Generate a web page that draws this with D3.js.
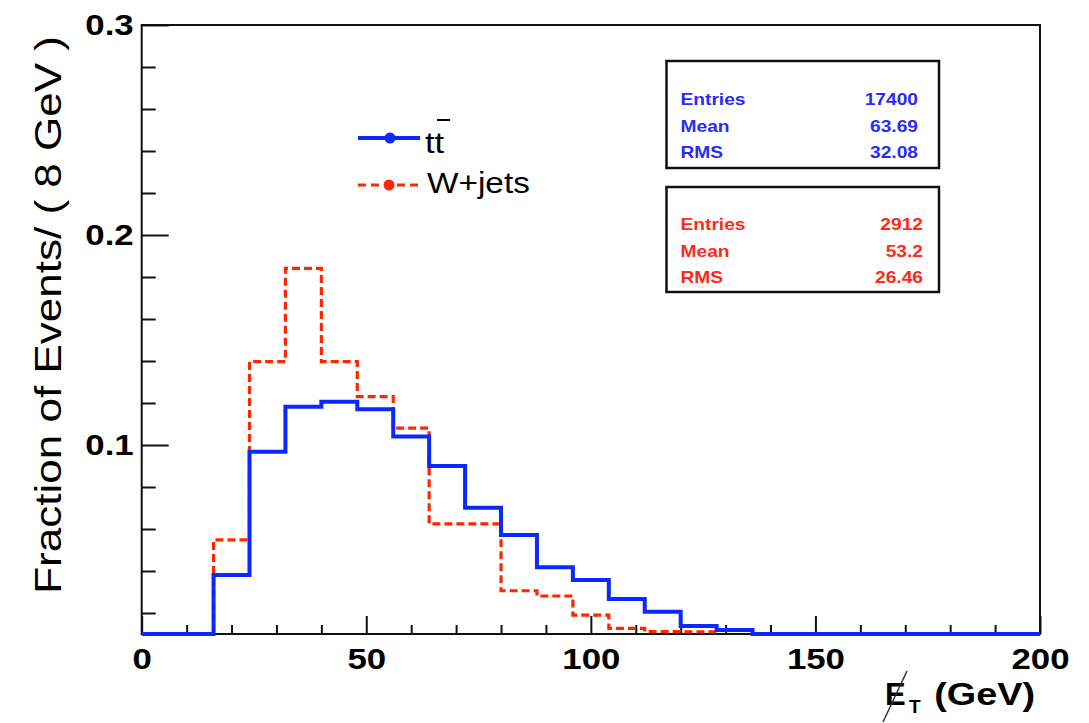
<!DOCTYPE html>
<html><head><meta charset="utf-8">
<script src="https://cdn.jsdelivr.net/npm/d3@7/dist/d3.min.js"></script>
<style>
html,body{margin:0;padding:0;background:#fff;}
svg{display:block;}
text{font-family:"Liberation Sans",Arial,Helvetica,sans-serif;}
</style></head>
<body>
<script>
// ---- data ----
const binLow = [0,8,16,24,32,40,48,56,64,72,80,88,96,104,112,120,128,136,144,152,160,168,176,184,192];
const binWidth = 8;
const ttbar = [0,0,0.0381,0.0968,0.1182,0.1206,0.1170,0.1040,0.0900,0.0701,0.0571,0.0418,0.0357,0.0267,0.0206,0.0138,0.0119,0,0,0,0,0,0,0,0];
const wjets = [0,0,0.0548,0.1397,0.1841,0.1397,0.1230,0.1080,0.0624,0.0624,0.0306,0.0281,0.0190,0.0127,0.0111,0.0110,0,0,0,0,0,0,0,0,0];
const xMajor = [0,50,100,150,200];
const xMinor = [10,20,30,40,60,70,80,90,110,120,130,140,160,170,180,190];
const yMajor = [0.1,0.2,0.3];
const yMinor = [0.02,0.04,0.06,0.08,0.12,0.14,0.16,0.18,0.22,0.24,0.26,0.28];
const seriesNames = ["tt","W+jets"];
const statLabels = ["Entries","Mean","RMS"];
const statsTT = ["17400","63.69","32.08"];
const statsWJ = ["2912","53.2","26.46"];

const W=1089,H=723;
const BLUE="#0a28ff", RED="#ff2600";
const svg=d3.select("body").append("svg").attr("width",W).attr("height",H);

const x=d3.scaleLinear().domain([0,200]).range([141.7,1040]);
const y=d3.scaleLinear().domain([0.01,0.3]).range([634,25]);
const x0=x.range()[0], x1=x.range()[1], yb=y.range()[0], yt=y.range()[1];

function wtext(parent,str,px,py,o){
  const g=parent.append("g").attr("transform",`translate(${px},${py})`+(o.rot?` rotate(${o.rot})`:"")+` scale(${o.sx||1},1)`);
  return g.append("text").attr("x",0).attr("y",0)
    .attr("font-size",o.size).attr("font-weight",o.weight||"normal")
    .attr("text-anchor",o.anchor||"start").attr("fill",o.fill||"#000").text(str);
}

// axes ticks
const gx=svg.append("g").attr("transform",`translate(0,${yb})`);
gx.call(d3.axisBottom(x).tickValues(xMajor).tickSize(-18).tickPadding(14).tickFormat(d3.format("d")));
const gxm=svg.append("g").attr("transform",`translate(0,${yb})`);
gxm.call(d3.axisBottom(x).tickValues(xMinor).tickSize(-9).tickFormat(""));
const gy=svg.append("g").attr("transform",`translate(${x0},0)`);
gy.call(d3.axisLeft(y).tickValues(yMajor).tickSize(-27).tickPadding(8).tickFormat(d3.format(".1f")));
const gym=svg.append("g").attr("transform",`translate(${x0},0)`);
gym.call(d3.axisLeft(y).tickValues(yMinor).tickSize(-14).tickFormat(""));
svg.selectAll(".domain").remove();
svg.selectAll(".tick line").attr("stroke","#111").attr("stroke-width",2);
gx.selectAll("text").attr("font-size",29).attr("font-weight","bold").attr("fill","#000")
  .attr("font-family","Liberation Sans, Arial, sans-serif").attr("transform","scale(1.2,1)");
gy.selectAll("text").attr("font-size",29).attr("font-weight","bold").attr("fill","#000")
  .attr("font-family","Liberation Sans, Arial, sans-serif").attr("transform","scale(1.2,1)")
  .attr("x",-8/1.2);

// frame
svg.append("rect").attr("x",x0).attr("y",yt).attr("width",x1-x0).attr("height",yb-yt)
  .attr("fill","none").attr("stroke","#111").attr("stroke-width",2);

// histogram step paths
function stepPath(vals,full){
  let first=0,last=vals.length-1;
  if(!full){
    first=vals.findIndex(v=>v>0);
    last=vals.length-1-[...vals].reverse().findIndex(v=>v>0);
  }
  const yv=v=>y(Math.max(v,0.01));
  const p=d3.path();
  p.moveTo(x(binLow[first]),yb);
  for(let i=first;i<=last;i++){
    p.lineTo(x(binLow[i]),yv(vals[i]));
    p.lineTo(x(binLow[i]+binWidth),yv(vals[i]));
  }
  p.lineTo(x(binLow[last]+binWidth),yb);
  return p.toString();
}
svg.append("path").attr("d",stepPath(wjets,false)).attr("fill","none")
  .attr("stroke",RED).attr("stroke-width",3.2).attr("stroke-dasharray","8,4");
svg.append("path").attr("d",stepPath(ttbar,true)).attr("fill","none")
  .attr("stroke",BLUE).attr("stroke-width",4);

// legend
const lg=svg.append("g");
lg.append("line").attr("x1",358).attr("x2",420).attr("y1",138).attr("y2",138).attr("stroke",BLUE).attr("stroke-width",4);
lg.append("circle").attr("cx",390).attr("cy",138).attr("r",5.5).attr("fill",BLUE);
wtext(lg,seriesNames[0],425,153,{size:30,sx:1.15});
lg.append("line").attr("x1",437).attr("x2",450).attr("y1",120).attr("y2",120).attr("stroke","#000").attr("stroke-width",2);
lg.append("line").attr("x1",358).attr("x2",420).attr("y1",185).attr("y2",185).attr("stroke",RED).attr("stroke-width",3.2).attr("stroke-dasharray","8,5");
lg.append("circle").attr("cx",389).attr("cy",185).attr("r",5.5).attr("fill",RED);
wtext(lg,seriesNames[1],427,193,{size:29,sx:1.15});

// stats boxes
function statBox(top,bottom,vals,color,base,right){
  const g=svg.append("g");
  g.append("rect").attr("x",666.5).attr("y",top).attr("width",939-666.5).attr("height",bottom-top)
    .attr("fill","#fff").attr("stroke","#111").attr("stroke-width",2.5);
  statLabels.forEach((s,i)=>{
    wtext(g,s,680.5,base[i],{size:16,weight:"bold",fill:color,sx:1.2});
    wtext(g,vals[i],right,base[i],{size:16,weight:"bold",fill:color,sx:1.2,anchor:"end"});
  });
}
statBox(61,168,statsTT,"#2a2aff",[105,131.7,157.7],918);
statBox(187,292,statsWJ,"#ff2a1a",[230,256.7,283.3],923);

// axis titles
wtext(svg,"Fraction of Events/ ( 8 GeV )",61,36,{size:37,rot:-90,sx:1.19,anchor:"end"});
const xt=svg.append("g");
wtext(xt,"E",885,705,{size:31,weight:"bold"});
wtext(xt,"T",909,713,{size:19,weight:"bold"});
wtext(xt,"(GeV)",1035,705,{size:31,weight:"bold",sx:1.22,anchor:"end"});
xt.append("line").attr("x1",907).attr("y1",671).attr("x2",883).attr("y2",722).attr("stroke","#333").attr("stroke-width",1.5);
</script>
</body></html>
